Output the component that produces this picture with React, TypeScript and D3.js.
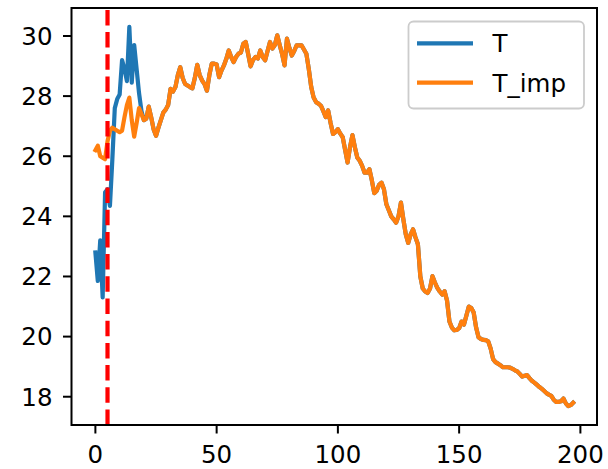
import React from "react";
import * as d3 from "d3";

// T_imp series, one value per step (t = 0..197)
const tImp: number[] = [
  26.2, 26.35, 26.0, 25.95, 25.9, 26.5, 26.85, 26.95, 26.9, 26.85,
  26.8, 26.85, 27.3, 27.7, 27.95, 27.2, 26.65, 27.1, 27.6, 27.4,
  27.2, 27.25, 27.65, 27.3, 26.9, 26.68, 26.95, 27.2, 27.45, 27.55,
  27.7, 28.24, 28.15, 28.3, 28.7, 28.96, 28.6, 28.4, 28.35, 28.3,
  28.26, 28.6, 29.04, 28.7, 28.52, 28.4, 28.18, 28.7, 29.08, 29.08,
  29.05, 28.63, 28.85, 29.02, 29.24, 29.52, 29.3, 29.13, 29.3, 29.41,
  29.45, 29.74, 29.8, 29.4, 28.99, 29.2, 29.3, 29.25, 29.52, 29.3,
  29.19, 29.5, 29.8, 29.58, 29.7, 30.02, 29.7, 29.4, 29.02, 29.91,
  29.6, 29.35, 29.5, 29.69, 29.69, 29.69, 29.55, 29.41, 28.9, 28.3,
  27.95, 27.8, 27.75, 27.68, 27.5, 27.3, 27.52, 27.1, 26.74, 26.8,
  26.9, 26.75, 26.63, 26.2, 25.79, 26.3, 26.7, 26.3, 25.96, 25.85,
  25.68, 25.45, 25.45, 25.57, 25.2, 24.77, 24.85, 25.05, 25.12, 24.9,
  24.4, 24.2, 24.0, 23.9, 23.79, 24.0, 24.46, 23.9, 23.4, 23.12,
  23.4, 23.57, 23.3, 23.07, 22.0, 21.6, 21.5, 21.45, 21.6, 22.01,
  21.8, 21.62, 21.5, 21.4, 21.51, 21.2, 20.5, 20.3, 20.21, 20.22,
  20.28, 20.5, 20.4, 20.7, 21.0, 20.95, 20.8, 20.3, 19.98, 19.92,
  19.89, 19.88, 19.84, 19.6, 19.25, 19.15, 19.1, 19.05, 18.98, 18.98,
  18.98, 18.97, 18.93, 18.88, 18.84, 18.76, 18.67, 18.7, 18.72, 18.62,
  18.53, 18.47, 18.4, 18.33, 18.27, 18.2, 18.12, 18.07, 18.03, 17.9,
  17.83, 17.83, 17.85, 17.94, 17.78, 17.69, 17.72, 17.8,
];

// T series: measured values for t = 0..19, identical to T_imp afterwards
const tEarly: number[] = [
  22.8, 21.85, 23.2, 21.3, 24.8, 24.9, 24.35, 25.9, 27.6, 27.9,
  28.05, 29.2, 28.9, 28.5, 30.3, 28.45, 29.7, 28.9, 28.1, 27.5,
];

const seriesNames = ["T", "T_imp"];
const xTicks = [0, 50, 100, 150, 200];
const yTicks = [18, 20, 22, 24, 26, 28, 30];
const cutoff = 5;

const W = 608;
const H = 469;
const left = 71.5;
const right = 597;
const top = 8;
const bottom = 425;
const FONT = "DejaVu Sans, sans-serif";

export default function App() {
  const tVals = tEarly.concat(tImp.slice(tEarly.length));
  const idx = d3.range(tImp.length);

  const xMin = 0;
  const xMax = tImp.length - 1;
  const xPad = (xMax - xMin) * 0.05;
  const allY = tVals.concat(tImp);
  const yMin = d3.min(allY) as number;
  const yMax = d3.max(allY) as number;
  const yPad = (yMax - yMin) * 0.05;

  const x = d3.scaleLinear().domain([xMin - xPad, xMax + xPad]).range([left, right]);
  const y = d3.scaleLinear().domain([yMin - yPad, yMax + yPad]).range([bottom, top]);

  const line = d3
    .line<number>()
    .x((_, i) => x(idx[i]))
    .y((d) => y(d));

  const colors = ["#1f77b4", "#ff7f0e"];
  const fs = 24.5;

  return (
    <svg width={W} height={H} style={{ position: "absolute", left: 0, top: 0, background: "#fff" }}>
      <rect x={0} y={0} width={W} height={H} fill="#fff" />
      <path d={line(tVals) || ""} fill="none" stroke={colors[0]} strokeWidth={4.2} strokeLinejoin="round" strokeLinecap="square" />
      <path d={line(tImp) || ""} fill="none" stroke={colors[1]} strokeWidth={4.2} strokeLinejoin="round" strokeLinecap="square" />
      <line x1={x(cutoff)} x2={x(cutoff)} y1={bottom} y2={top} stroke="#ff0000" strokeWidth={4.2} strokeDasharray="15.5 6.7" />

      {/* spines */}
      <rect x={left} y={top} width={right - left} height={bottom - top} fill="none" stroke="#000" strokeWidth={2} />

      {/* x ticks */}
      {xTicks.map((t) => (
        <g key={"x" + t}>
          <line x1={x(t)} x2={x(t)} y1={bottom} y2={bottom + 8.5} stroke="#000" strokeWidth={2} />
          <text x={x(t)} y={bottom + 38} textAnchor="middle" fontFamily={FONT} fontSize={fs} fill="#000">
            {t}
          </text>
        </g>
      ))}
      {/* y ticks */}
      {yTicks.map((t) => (
        <g key={"y" + t}>
          <line x1={left - 8.5} x2={left} y1={y(t)} y2={y(t)} stroke="#000" strokeWidth={2} />
          <text x={left - 19} y={y(t)} dy="0.36em" textAnchor="end" fontFamily={FONT} fontSize={fs} fill="#000">
            {t}
          </text>
        </g>
      ))}

      {/* legend */}
      <rect x={408.5} y={21.5} width={175.5} height={87} rx={5} ry={5} fill="#fff" fillOpacity={0.8} stroke="#cccccc" strokeWidth={1.8} />
      {seriesNames.map((n, i) => (
        <g key={n}>
          <line x1={417} x2={473} y1={43.3 + i * 39.4} y2={43.3 + i * 39.4} stroke={colors[i]} strokeWidth={4.2} />
          <text x={492.5} y={43.3 + i * 39.4} dy="0.36em" fontFamily={FONT} fontSize={fs} fill="#000">
            {n}
          </text>
        </g>
      ))}
    </svg>
  );
}
